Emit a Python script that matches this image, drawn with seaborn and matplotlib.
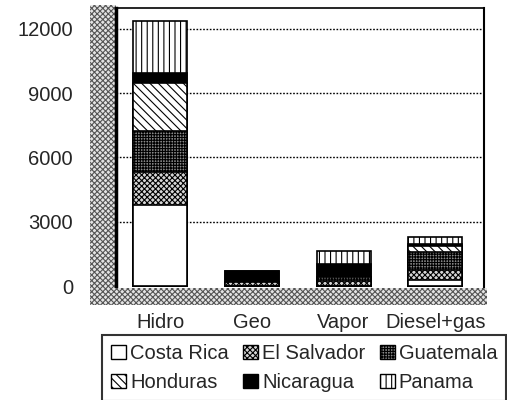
import matplotlib
matplotlib.use('Agg')
import matplotlib.pyplot as plt
from matplotlib.patches import Patch, Rectangle
import seaborn as sns
import pandas as pd

# data
categories = ['Hidro', 'Geo', 'Vapor', 'Diesel+gas']
countries = ['Costa Rica', 'El Salvador', 'Guatemala', 'Honduras', 'Nicaragua', 'Panama']
costa_rica = [3800, 0, 0, 300]
el_salvador = [1500, 180, 250, 450]
guatemala = [1950, 0, 150, 850]
honduras = [2250, 0, 0, 250]
nicaragua = [450, 520, 650, 100]
panama = [2400, 0, 600, 350]
y_ticks = [0, 3000, 6000, 9000, 12000]
y_tick_labels = ['0', '3000', '6000', '9000', '12000']

styles = {
    'Costa Rica': dict(color='white', hatch=None),
    'El Salvador': dict(color='#d6d6d6', hatch='xxxxxx'),
    'Guatemala': dict(color='#8a8a8a', hatch='++++++'),
    'Honduras': dict(color='white', hatch='\\\\\\\\'),
    'Nicaragua': dict(color='black', hatch=None),
    'Panama': dict(color='white', hatch='|||'),
}

df = pd.DataFrame({'Costa Rica': costa_rica, 'El Salvador': el_salvador,
                   'Guatemala': guatemala, 'Honduras': honduras,
                   'Nicaragua': nicaragua, 'Panama': panama}, index=categories)
cum = df[countries].cumsum(axis=1)

sns.set_style('white')
plt.rcParams['font.family'] = ['Liberation Sans', 'DejaVu Sans']
plt.rcParams['hatch.linewidth'] = 0.8

W, H = 507, 400
fig = plt.figure(figsize=(W / 100, H / 100), dpi=100)
ax = fig.add_axes([116 / W, 1 - 288 / H, (484 - 116) / W, (288 - 8) / H])

# speckled side wall and floor
wall_kw = dict(transform=fig.transFigure, facecolor='#e4e4e4',
               edgecolor='#555555', hatch='xxxxxx', lw=0)
fig.patches.append(Rectangle((90 / W, 1 - 290 / H), 26 / W, 285 / H,
                             zorder=-1, **wall_kw))
fig.patches.append(Rectangle((90 / W, 1 - 305 / H), (487 - 90) / W, 17 / H,
                             zorder=2, **wall_kw))

# stacked bars: draw cumulative totals from the top layer down
for country in reversed(countries):
    st = styles[country]
    sns.barplot(x=categories, y=cum[country].values, order=categories,
                color=st['color'], hatch=st['hatch'], edgecolor='black',
                linewidth=1.2, width=0.59, saturation=1, errorbar=None, ax=ax)

ax.set_xlim(-0.48, 3.53)
ax.set_ylim(-93, 12980)
ax.set_yticks(y_ticks)
ax.set_yticklabels(y_tick_labels)
ax.set_xlabel('')
ax.set_ylabel('')
ax.tick_params(axis='y', length=0, pad=31, labelsize=14.5)
ax.tick_params(axis='x', length=0, pad=18, labelsize=14.5)
ax.set_axisbelow(True)
ax.yaxis.grid(True, linestyle=(0, (1.2, 1.2)), color='black', lw=1)
ax.get_ygridlines()[0].set_visible(False)

ax.spines['bottom'].set_visible(False)
ax.spines['left'].set_linewidth(2.5)
ax.spines['top'].set_linewidth(1.2)
ax.spines['right'].set_linewidth(1.5)
for s in ['left', 'top', 'right']:
    ax.spines[s].set_color('black')

handles = [Patch(facecolor=styles[c]['color'], hatch=styles[c]['hatch'],
                 edgecolor='black', lw=1) for c in countries]
order = [0, 3, 1, 4, 2, 5]
leg = fig.legend([handles[i] for i in order], [countries[i] for i in order],
                 ncol=3, loc='upper left', bbox_to_anchor=(102 / W, 1 - 335 / H),
                 frameon=True, fancybox=False, edgecolor='black',
                 fontsize=14.5, handlelength=0.75, handleheight=0.75,
                 handletextpad=0.2, columnspacing=0.7, labelspacing=0.5,
                 borderpad=0.45, borderaxespad=0)
leg.get_frame().set_linewidth(1.5)

fig.savefig('out.png', dpi=100)
